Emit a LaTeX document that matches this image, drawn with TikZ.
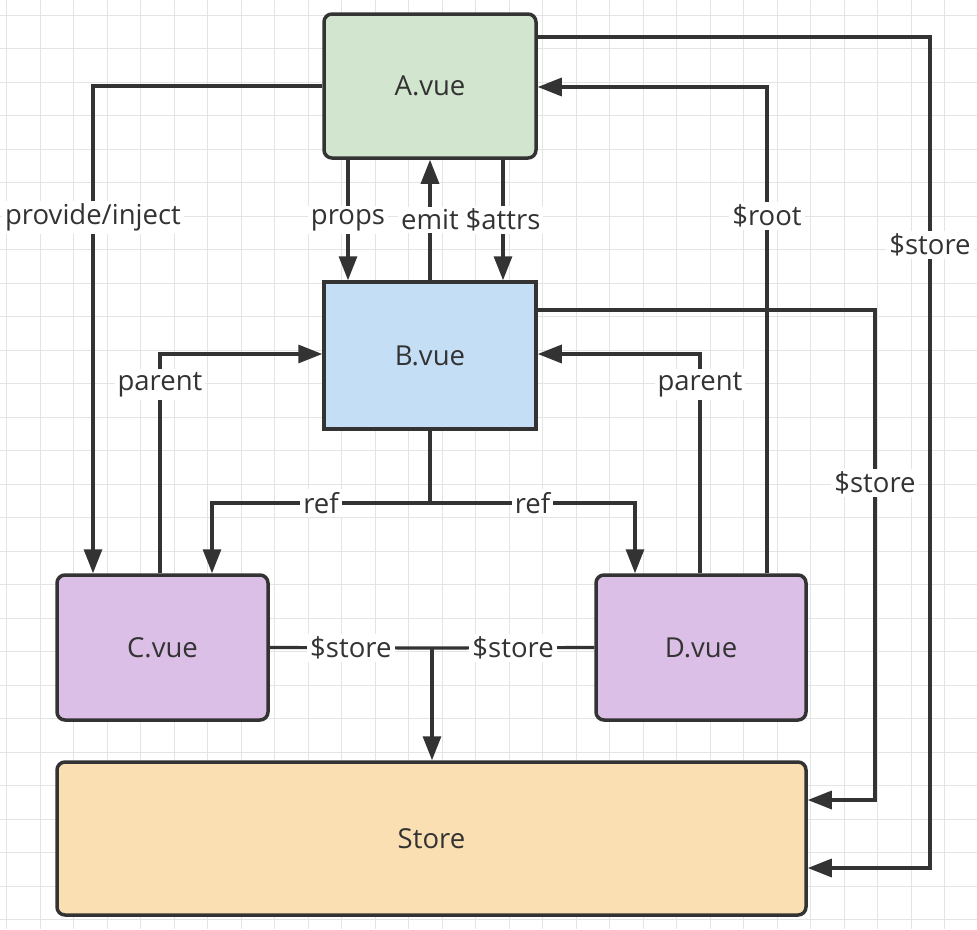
\documentclass[tikz,border=0pt]{standalone}
\usepackage{fontspec}
\setmainfont{Open Sans}
\usepackage{xcolor}
\usetikzlibrary{arrows.meta,positioning}

\definecolor{ink}{HTML}{333333}
\definecolor{gridgray}{HTML}{E4E4E4}
\definecolor{greenfill}{HTML}{D2E6CF}
\definecolor{bluefill}{HTML}{C4DEF6}
\definecolor{purplefill}{HTML}{DCBFE6}
\definecolor{orangefill}{HTML}{F9DFB2}

\begin{document}
\begin{tikzpicture}[
  x=1pt, y=-1pt,
  font=\fontsize{27.5}{32}\selectfont,
  comp/.style={rectangle, draw=ink, line width=3.5pt, align=center, text=ink},
  arrow/.style={-{Triangle[length=24pt, width=18pt]}, draw=ink, line width=3.2pt},
  wire/.style={draw=ink, line width=3.2pt},
  lbl/.style={fill=white, text=ink, inner sep=3pt},
  gridline/.style={draw=gridgray, line width=1pt}
]
\useasboundingbox (0,0) rectangle (977,929);
\fill[white] (0,0) rectangle (977,929);

% background grid
\foreach \gx in {0,...,29}
  \draw[gridline] (6.7+33.5*\gx,0) -- ++(0,929);
\foreach \gy in {0,...,27}
  \draw[gridline] (0,15+33.5*\gy) -- ++(977,0);

% components
\node[comp, rounded corners=8pt, fill=greenfill, minimum width=212pt, minimum height=144pt] (A) at (430,86) {A.vue};
\node[comp, fill=bluefill, minimum width=212pt, minimum height=147pt] (B) at (430,355.5) {B.vue};
\node[comp, rounded corners=8pt, fill=purplefill, minimum width=211pt, minimum height=145pt] (C) at (162.5,647.5) {C.vue};
\node[comp, rounded corners=8pt, fill=purplefill, minimum width=210pt, minimum height=145pt] (D) at (701,647.5) {D.vue};
\node[comp, rounded corners=8pt, fill=orangefill, minimum width=749pt, minimum height=153pt] (Store) at (431.5,838.5) {Store};

% bend points
\coordinate (piBend) at (93,86);
\coordinate (propX) at (348,0);
\coordinate (attrX) at (503,0);
\coordinate (rootBend) at (767,87);
\coordinate (storeA1) at (930,37);
\coordinate (storeA2) at (930,868);
\coordinate (storeB1) at (875,310);
\coordinate (storeB2) at (875,800);
\coordinate (parL) at (160,354);
\coordinate (parR) at (700,354);
\coordinate (refJ) at (430,503);
\coordinate (refL) at (212,503);
\coordinate (refR) at (635,503);
\coordinate (storeJ) at (432,648);

% A <-> B
\draw[arrow] (propX |- A.south) -- node[lbl] (lprops) {props} (propX |- B.north);
\draw[arrow] (B.north) -- node[lbl] (lemit) {emit} (A.south);
\draw[arrow] (attrX |- A.south) -- node[lbl] (lattrs) {\$attrs} (attrX |- B.north);

% provide/inject and $root
\draw[arrow] (A.west) -- (piBend) -- node[lbl, pos=.27] (lpi) {provide/inject} (piBend |- C.north);
\draw[arrow] (rootBend |- D.north) -- node[lbl, pos=.735] (lroot) {\$root} (rootBend) -- (rootBend -| A.east);

% $store to Store
\draw[arrow] (A.east |- storeA1) -- (storeA1) -- node[lbl, pos=.25] (lstoreA) {\$store} (storeA2) -- (storeA2 -| Store.east);
\draw[arrow] (B.east |- storeB1) -- (storeB1) -- node[lbl, pos=.353] (lstoreB) {\$store} (storeB2) -- (storeB2 -| Store.east);

% parent
\draw[arrow] (parL |- C.north) -- node[lbl, pos=.86] (lparL) {parent} (parL) -- (parL -| B.west);
\draw[arrow] (parR |- D.north) -- node[lbl, pos=.86] (lparR) {parent} (parR) -- (parR -| B.east);

% ref
\draw[wire] (B.south) -- (refJ);
\draw[arrow] (refJ) -- node[lbl] (lrefL) {ref} (refL) -- (refL |- C.north);
\draw[arrow] (refJ) -- node[lbl] (lrefR) {ref} (refR) -- (refR |- D.north);

% C, D -> Store
\draw[wire] (C.east) -- node[lbl] (lstoreC) {\$store} (storeJ);
\draw[wire] (D.west) -- node[lbl] (lstoreD) {\$store} (storeJ);
\draw[arrow] (storeJ) -- (storeJ |- Store.north);

\end{tikzpicture}
\end{document}
